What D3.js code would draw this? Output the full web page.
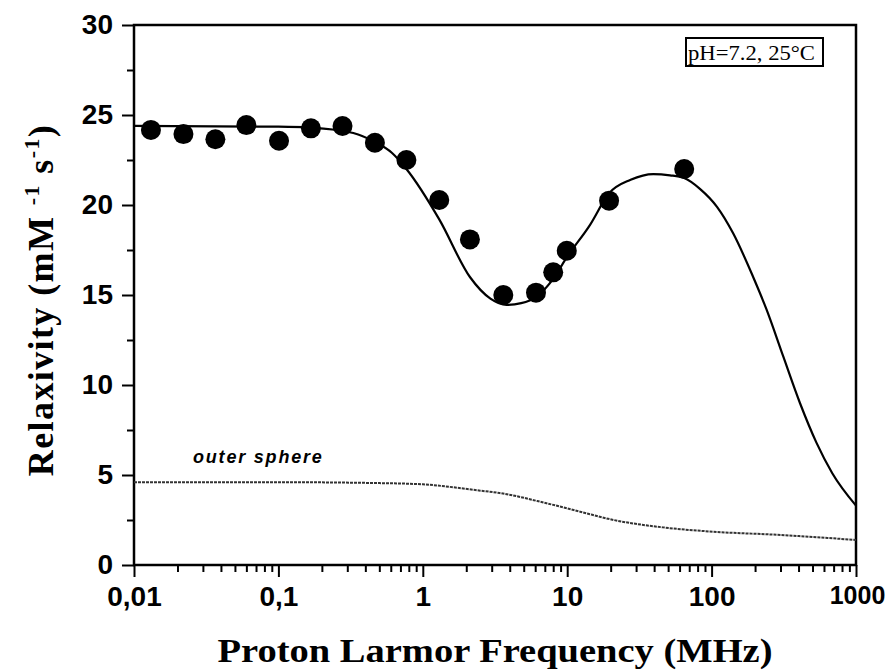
<!DOCTYPE html>
<html>
<head>
<meta charset="utf-8">
<script src="https://cdn.jsdelivr.net/npm/d3@7"></script>
<style>
  body { margin: 0; background: #fff; }
  .tick text { font-family: "Liberation Sans", Arial, sans-serif; font-weight: bold; font-size: 28px; fill: #000; }
  .title { font-family: "Liberation Serif", "Times New Roman", serif; font-weight: bold; fill: #000; }
</style>
</head>
<body>
<div id="chart"></div>
<script>
// measured relaxivity points
var dataFreq = [0.0131, 0.022, 0.0366, 0.060, 0.101, 0.168, 0.278, 0.466, 0.77, 1.30, 2.12, 3.61, 6.08, 8.0, 9.93, 19.5, 64.6];
var dataR1 = [24.17, 23.94, 23.65, 24.44, 23.57, 24.26, 24.39, 23.46, 22.5, 20.28, 18.09, 15.0, 15.13, 16.26, 17.46, 20.24, 22.0];

// fitted curve
var fitFreq = [0.01, 0.1, 0.167, 0.33, 0.466, 0.61, 0.77, 1.3, 2.12, 2.94, 3.8, 4.8, 6.1, 8.0, 9.95, 14.4, 19.5, 27.5, 39.5, 51.5, 64.5, 83, 109, 141, 194, 240, 313, 409, 532, 685, 1000];
var fitR1 = [24.4, 24.35, 24.3, 24.0, 23.5, 22.9, 22.0, 19.2, 16.0, 14.8, 14.45, 14.55, 14.9, 15.9, 17.1, 18.9, 20.65, 21.4, 21.72, 21.65, 21.5, 20.9, 19.9, 18.43, 16.0, 14.2, 11.6, 9.0, 6.8, 5.1, 3.3];

// outer sphere contribution
var osFreq = [0.01, 0.1, 0.5, 1, 2.5, 3.4, 7.2, 12.3, 21, 46, 102, 300, 1000];
var osR1 = [4.6, 4.6, 4.55, 4.48, 4.13, 4.0, 3.43, 2.96, 2.5, 2.09, 1.85, 1.67, 1.39];

var xTicks = [0.01, 0.1, 1, 10, 100, 1000];
var xTickLabels = ["0,01", "0,1", "1", "10", "100", "1000"];
var yTicks = [0, 5, 10, 15, 20, 25, 30];
var yMinor = [2.5, 7.5, 12.5, 17.5, 22.5, 27.5];

var width = 894;
var height = 670;
// plot box edges
var pLeft = 134, pRight = 856, pTop = 25, pBottom = 565;

var svg = d3.select("#chart")
  .append("svg")
  .attr("width", width)
  .attr("height", height);

var xScale = d3.scaleLog().domain([0.01, 1000]).range([pLeft, pRight]);
var yScale = d3.scaleLinear().domain([0, 30]).range([pBottom, pTop]);

// minor ticks on x (2..9 per decade)
var xMinor = [];
xTicks.slice(0, -1).forEach(function(d) {
  for (var k = 2; k <= 9; k++) xMinor.push(d * k);
});

svg.append("g")
  .attr("transform", "translate(0," + pBottom + ")")
  .call(d3.axisBottom(xScale).tickValues(xMinor).tickSize(7).tickSizeOuter(0).tickFormat(""))
  .call(function(g) { g.select(".domain").remove(); })
  .selectAll("line").attr("stroke", "#000").attr("stroke-width", 2);

svg.append("g")
  .attr("class", "xAxis")
  .attr("transform", "translate(0," + pBottom + ")")
  .call(d3.axisBottom(xScale).tickValues(xTicks).tickSize(12).tickPadding(9).tickSizeOuter(0)
    .tickFormat(function(d, i) { return xTickLabels[i]; }))
  .call(function(g) { g.select(".domain").remove(); })
  .selectAll("line").attr("stroke", "#000").attr("stroke-width", 2);

// last label is narrower in the original so it fits the page
svg.selectAll(".xAxis .tick text")
  .filter(function(d) { return d === 1000; })
  .style("font-size", "25px")
  .attr("dx", "1");

svg.append("g")
  .attr("transform", "translate(" + pLeft + ",0)")
  .call(d3.axisLeft(yScale).tickValues(yMinor).tickSize(7).tickSizeOuter(0).tickFormat(""))
  .call(function(g) { g.select(".domain").remove(); })
  .selectAll("line").attr("stroke", "#000").attr("stroke-width", 2);

svg.append("g")
  .attr("transform", "translate(" + pLeft + ",0)")
  .call(d3.axisLeft(yScale).tickValues(yTicks).tickSize(12).tickPadding(9).tickSizeOuter(0).tickFormat(d3.format("d")))
  .call(function(g) { g.select(".domain").remove(); })
  .selectAll("line").attr("stroke", "#000").attr("stroke-width", 2);

// frame
svg.append("rect")
  .attr("x", pLeft)
  .attr("y", pTop)
  .attr("width", pRight - pLeft)
  .attr("height", pBottom - pTop)
  .attr("fill", "none")
  .attr("stroke", "#000")
  .attr("stroke-width", 2.5);

// outer sphere line
var osLine = d3.line()
  .x(function(d, i) { return xScale(osFreq[i]); })
  .y(function(d) { return yScale(d); })
  .curve(d3.curveMonotoneX);

svg.append("path")
  .attr("d", osLine(osR1))
  .attr("fill", "none")
  .attr("stroke", "#333")
  .attr("stroke-width", 2)
  .attr("stroke-dasharray", "3,1");

svg.append("text")
  .attr("x", 193)
  .attr("y", 463)
  .attr("font-family", "'Liberation Sans', Arial, sans-serif")
  .attr("font-weight", "bold")
  .attr("font-style", "italic")
  .attr("font-size", 18)
  .attr("letter-spacing", 1.8)
  .text("outer sphere");

// fit curve
var fitLine = d3.line()
  .x(function(d, i) { return xScale(fitFreq[i]); })
  .y(function(d) { return yScale(d); })
  .curve(d3.curveMonotoneX);

svg.append("path")
  .attr("d", fitLine(fitR1))
  .attr("fill", "none")
  .attr("stroke", "#000")
  .attr("stroke-width", 2.2);

// points
svg.selectAll("circle.pt")
  .data(dataR1)
  .enter()
  .append("circle")
  .attr("class", "pt")
  .attr("cx", function(d, i) { return xScale(dataFreq[i]); })
  .attr("cy", function(d) { return yScale(d); })
  .attr("r", 10)
  .attr("fill", "#000");

// pH label box
svg.append("rect")
  .attr("x", 686)
  .attr("y", 38)
  .attr("width", 137)
  .attr("height", 28)
  .attr("fill", "#fff")
  .attr("stroke", "#000")
  .attr("stroke-width", 2);

svg.append("text")
  .attr("x", 688)
  .attr("y", 60)
  .attr("font-family", "'Liberation Serif', 'Times New Roman', serif")
  .attr("font-size", 21)
  .attr("textLength", 127)
  .attr("lengthAdjust", "spacingAndGlyphs")
  .text("pH=7.2, 25\u00B0C");

// axis titles
svg.append("text")
  .attr("class", "title")
  .attr("x", 495)
  .attr("y", 662)
  .attr("text-anchor", "middle")
  .attr("font-size", 34)
  .attr("textLength", 555)
  .attr("lengthAdjust", "spacingAndGlyphs")
  .text("Proton Larmor Frequency (MHz)");

var yTitle = svg.append("text")
  .attr("class", "title")
  .attr("transform", "translate(53,300)rotate(-90)")
  .attr("text-anchor", "middle")
  .attr("font-size", 36)
  .attr("letter-spacing", 1.4);

yTitle.append("tspan").text("Relaxivity (mM ");
yTitle.append("tspan").attr("font-size", 22).attr("dy", -14).text("-1");
yTitle.append("tspan").attr("dy", 14).text(" s");
yTitle.append("tspan").attr("font-size", 22).attr("dy", -14).text("-1");
yTitle.append("tspan").attr("dy", 14).text(")");
</script>
</body>
</html>
